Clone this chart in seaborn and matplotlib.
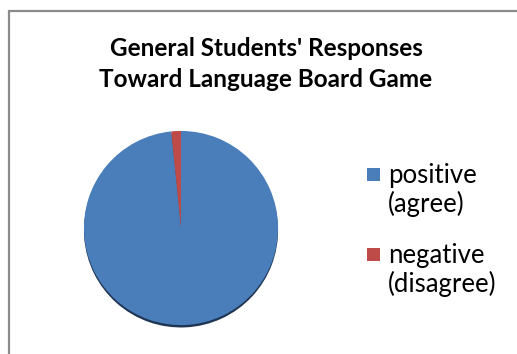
import matplotlib
matplotlib.use("Agg")
import matplotlib.pyplot as plt
import seaborn as sns
from matplotlib.patches import Rectangle

sns.set_theme(style="white")
plt.rcParams['font.family'] = ['Lato', 'DejaVu Sans']

# Data
title = "General Students' Responses\nToward Language Board Game"
labels = ["positive\n(agree)", "negative\n(disagree)"]
values = [98.4, 1.6]
colors = ["#4a7ebb", "#be4b48"]

W, H = 517, 354
fig = plt.figure(figsize=(W / 100, H / 100), dpi=100)
fig.patch.set_facecolor("white")

# chart border (top and left visible)
fig.add_artist(Rectangle((8.5 / W, -0.2), 1.0, 1.2 - 10.5 / H,
                         transform=fig.transFigure, fill=False,
                         ec="#8a8a8a", lw=1.6))

cx, cy, r = 181, 228, 99
ax = fig.add_axes([(cx - r) / W, (H - cy - r) / H, 2 * r / W, 2 * r / H])
# shadow
ax.pie(values, colors=["#1f3553", "#1f3553"], startangle=90, counterclock=False,
       center=(0, -0.025), radius=1.0, wedgeprops=dict(linewidth=0))
wedges, _ = ax.pie(values, colors=colors, startangle=90, counterclock=False,
                   radius=1.0, wedgeprops=dict(linewidth=0))
ax.set_xlim(-1.02, 1.02)
ax.set_ylim(-1.02, 1.02)
ax.set_aspect("equal")
ax.axis("off")

fig.text(266 / W, 1 - 64 / H, title, ha="center", va="center",
         fontsize=17.5, fontweight="bold", color="black", linespacing=1.42)

# legend: square aligned to first line of each two-line label
for i, (lab, col) in enumerate(zip(labels, colors)):
    y0 = 175 + i * 80
    fig.add_artist(Rectangle((367 / W, 1 - (y0 + 6) / H), 13 / W, 13 / H,
                             transform=fig.transFigure, fc=col, ec="none"))
    fig.text(388 / W, 1 - (y0 + 15) / H, lab, ha="left", va="center",
             fontsize=18.5, color="black", linespacing=1.1)

fig.savefig("out.png", dpi=100, facecolor="white")
